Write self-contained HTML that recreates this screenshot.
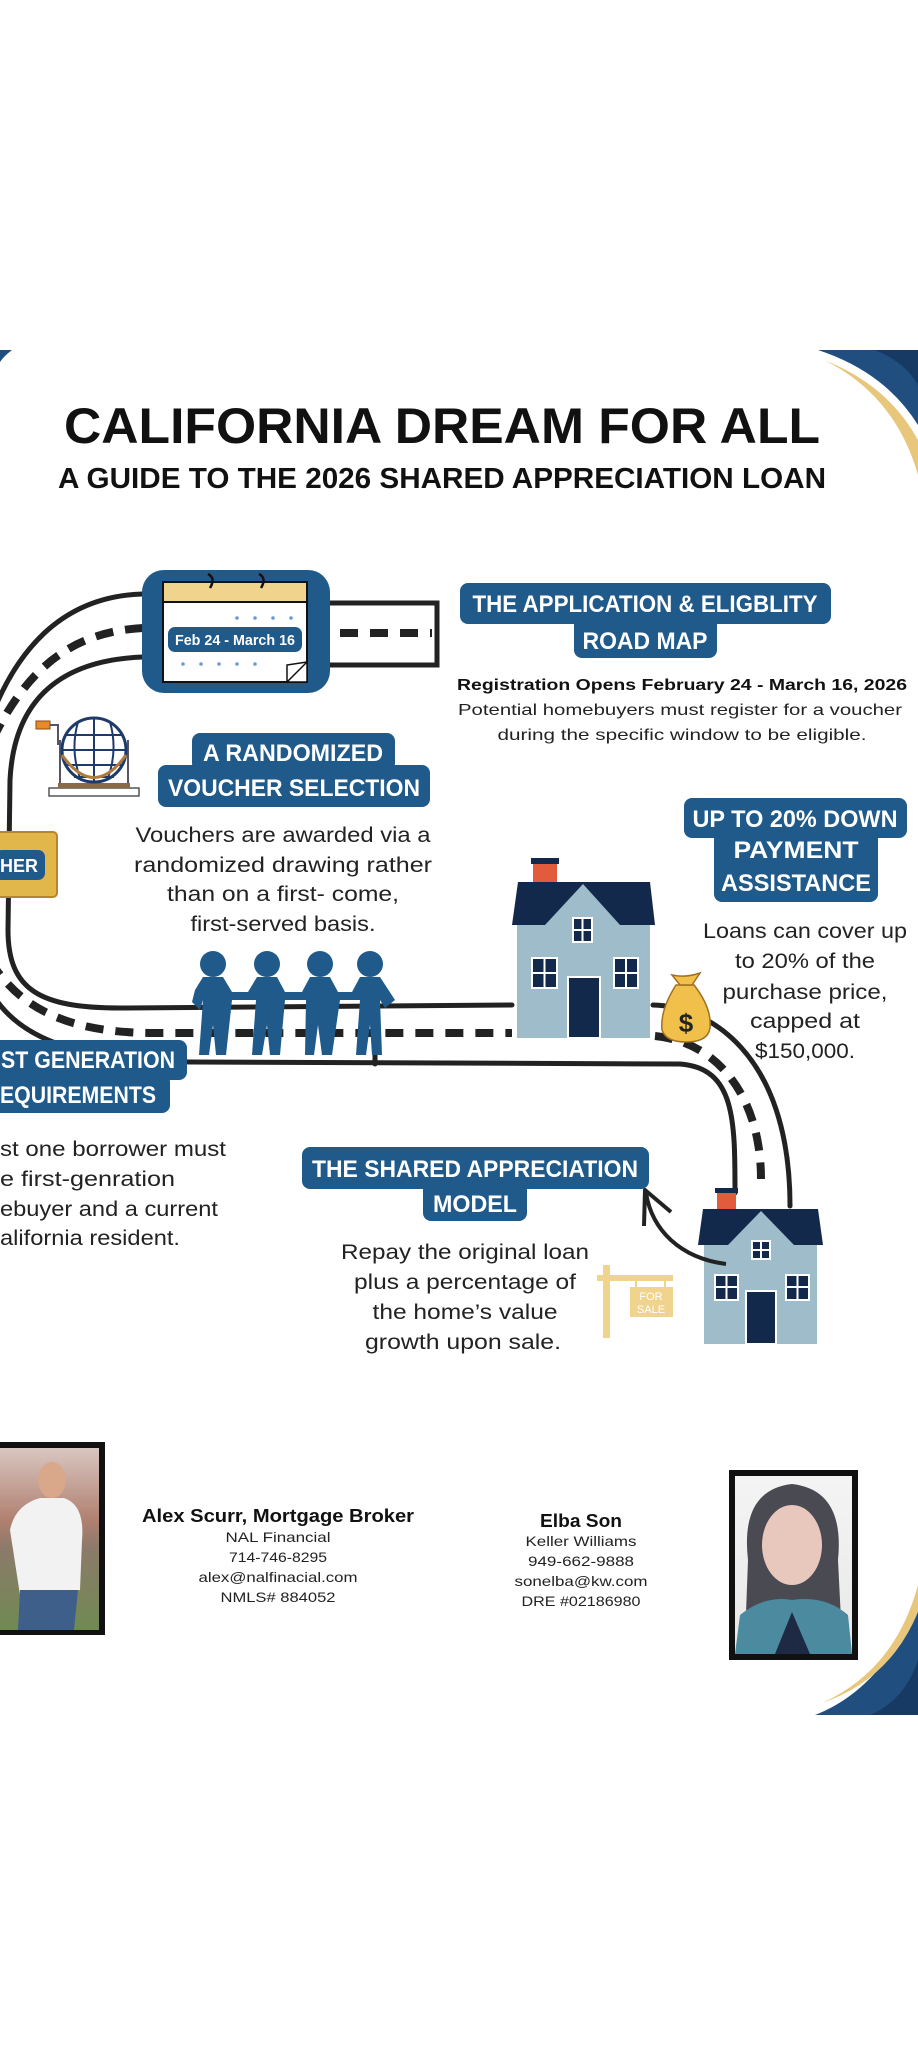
<!DOCTYPE html>
<html><head><meta charset="utf-8"><style>
html,body{margin:0;padding:0;background:#fff;}
svg{display:block;}
text{font-family:"Liberation Sans",sans-serif;}
.b{fill:#fff;font-weight:bold;}
.t{fill:#222;font-size:21px;}
</style></head><body>
<svg width="918" height="2048" viewBox="0 0 918 2048" xmlns="http://www.w3.org/2000/svg">
<rect width="918" height="2048" fill="#fff"/>
<!-- corners -->
<path d="M818,350 L918,350 L918,425 Q885,372 818,350Z" fill="#1f4e7f"/>
<path d="M875,350 L918,350 L918,385 Q905,362 875,350Z" fill="#163a63"/>
<path d="M824,360 Q895,395 918,475 L918,440 Q888,385 824,360Z" fill="#e8c77d"/>
<path d="M0,350 L12,350 Q4,356 0,362Z" fill="#1f4e7f"/>
<path d="M815,1715 L918,1715 L918,1605 Q880,1690 815,1715Z" fill="#1f4e7f"/>
<path d="M870,1715 L918,1715 L918,1660 Q905,1700 870,1715Z" fill="#163a63"/>
<path d="M822,1703 Q895,1670 918,1585 L918,1612 Q890,1680 822,1703Z" fill="#e8c77d"/>

<!-- title -->
<text x="442" y="443" font-size="50" font-weight="bold" fill="#111" text-anchor="middle" textLength="756" lengthAdjust="spacingAndGlyphs">CALIFORNIA DREAM FOR ALL</text>
<text x="442" y="488" font-size="29" font-weight="bold" fill="#111" text-anchor="middle" textLength="768" lengthAdjust="spacingAndGlyphs">A GUIDE TO THE 2026 SHARED APPRECIATION LOAN</text>

<!-- roads -->
<g fill="none" stroke="#222" stroke-width="5" stroke-linecap="round">
<path d="M329,603 L437,603 L437,665 L329,665"/>
<path d="M143,594 C70,596 20,640 -10,720"/>
<path d="M143,657 C60,660 14,700 10,780 L8,930 C8,990 40,1008 120,1008 L512,1005"/>
<path d="M-10,990 C20,1045 90,1060 190,1062 L680,1064 C735,1068 735,1120 735,1193"/>
<path d="M653,1005 C705,1006 790,1050 790,1206"/>
<path d="M375,1040 L375,1064"/>
</g>
<g fill="none" stroke="#222" stroke-width="8" stroke-dasharray="18,12">
<path d="M340,633 L432,633"/>
<path d="M143,628 C70,632 25,670 -10,745"/>
<path d="M-10,960 C20,1010 70,1032 150,1033 L512,1033"/>
<path d="M655,1036 C720,1042 761,1100 761,1179"/>
</g>

<!-- calendar -->
<rect x="142" y="570" width="188" height="123" rx="22" fill="#1f5a8a"/>
<rect x="163" y="582" width="144" height="100" fill="#fff" stroke="#111" stroke-width="2"/>
<rect x="163" y="582" width="144" height="20" fill="#f0d48e" stroke="#111" stroke-width="2"/>
<path d="M208,574 q8,4 2,14 M259,574 q8,4 2,14" stroke="#111" stroke-width="2.5" fill="none"/>
<g fill="#6b9bd1"><circle cx="237" cy="618" r="1.8"/><circle cx="255" cy="618" r="1.8"/><circle cx="273" cy="618" r="1.8"/><circle cx="291" cy="618" r="1.8"/>
<circle cx="183" cy="664" r="1.8"/><circle cx="201" cy="664" r="1.8"/><circle cx="219" cy="664" r="1.8"/><circle cx="237" cy="664" r="1.8"/><circle cx="255" cy="664" r="1.8"/></g>
<rect x="168" y="627" width="134" height="25" rx="7" fill="#1f5a8a"/>
<text x="235" y="645" font-size="15" class="b" text-anchor="middle" textLength="120" lengthAdjust="spacingAndGlyphs">Feb 24 - March 16</text>
<path d="M287,682 L307,662 L307,682Z M287,682 L287,665 L307,662" fill="#fff" stroke="#111" stroke-width="1.5"/>

<!-- badges -->
<g fill="#1f5a8a">
<rect x="460" y="583" width="371" height="41" rx="8"/><rect x="574" y="615" width="143" height="43" rx="8"/>
<rect x="192" y="733" width="203" height="38" rx="8"/><rect x="158" y="765" width="272" height="42" rx="8"/>
<rect x="684" y="798" width="223" height="40" rx="8"/><rect x="714" y="830" width="164" height="72" rx="8"/>
<rect x="-10" y="1040" width="197" height="40" rx="8"/><rect x="-10" y="1074" width="180" height="39" rx="8"/>
<rect x="302" y="1147" width="347" height="42" rx="8"/><rect x="423" y="1182" width="104" height="39" rx="8"/>
</g>
<g class="b" font-size="24" text-anchor="middle">
<text x="645" y="612" textLength="345" lengthAdjust="spacingAndGlyphs">THE APPLICATION &amp; ELIGBLITY</text>
<text x="645" y="649" textLength="125" lengthAdjust="spacingAndGlyphs">ROAD MAP</text>
<text x="293" y="761" textLength="180" lengthAdjust="spacingAndGlyphs">A RANDOMIZED</text>
<text x="294" y="796" textLength="252" lengthAdjust="spacingAndGlyphs">VOUCHER SELECTION</text>
<text x="795" y="827" textLength="205" lengthAdjust="spacingAndGlyphs">UP TO 20% DOWN</text>
<text x="796" y="858" textLength="125" lengthAdjust="spacingAndGlyphs">PAYMENT</text>
<text x="796" y="891" textLength="150" lengthAdjust="spacingAndGlyphs">ASSISTANCE</text>
<text x="88" y="1068" textLength="174" lengthAdjust="spacingAndGlyphs">ST GENERATION</text>
<text x="78" y="1103" textLength="156" lengthAdjust="spacingAndGlyphs">EQUIREMENTS</text>
<text x="475" y="1177" textLength="326" lengthAdjust="spacingAndGlyphs">THE SHARED APPRECIATION</text>
<text x="475" y="1212" textLength="84" lengthAdjust="spacingAndGlyphs">MODEL</text>
</g>

<!-- application text -->
<text x="682" y="690" font-size="16" font-weight="bold" fill="#111" text-anchor="middle" textLength="450" lengthAdjust="spacingAndGlyphs">Registration Opens February 24 - March 16, 2026</text>
<text x="680" y="715" font-size="16" fill="#222" text-anchor="middle" textLength="444" lengthAdjust="spacingAndGlyphs">Potential homebuyers must register for a voucher</text>
<text x="682" y="740" font-size="16" fill="#222" text-anchor="middle" textLength="369" lengthAdjust="spacingAndGlyphs">during the specific window to be eligible.</text>

<g class="t" text-anchor="middle">
<text x="283" y="842" textLength="295" lengthAdjust="spacingAndGlyphs">Vouchers are awarded via a</text>
<text x="283" y="872" textLength="298" lengthAdjust="spacingAndGlyphs">randomized drawing rather</text>
<text x="283" y="901" textLength="232" lengthAdjust="spacingAndGlyphs">than on a first- come,</text>
<text x="283" y="931" textLength="185" lengthAdjust="spacingAndGlyphs">first-served basis.</text>
<text x="805" y="938" textLength="204" lengthAdjust="spacingAndGlyphs">Loans can cover up</text>
<text x="805" y="968" textLength="140" lengthAdjust="spacingAndGlyphs">to 20% of the</text>
<text x="805" y="999" textLength="165" lengthAdjust="spacingAndGlyphs">purchase price,</text>
<text x="805" y="1028" textLength="110" lengthAdjust="spacingAndGlyphs">capped at</text>
<text x="805" y="1058" textLength="100" lengthAdjust="spacingAndGlyphs">$150,000.</text>
<text x="465" y="1259" textLength="248" lengthAdjust="spacingAndGlyphs">Repay the original loan</text>
<text x="465" y="1289" textLength="222" lengthAdjust="spacingAndGlyphs">plus a percentage of</text>
<text x="465" y="1319" textLength="185" lengthAdjust="spacingAndGlyphs">the home’s value</text>
<text x="463" y="1349" textLength="196" lengthAdjust="spacingAndGlyphs">growth upon sale.</text>
</g>
<g class="t">
<text x="0" y="1156" textLength="226" lengthAdjust="spacingAndGlyphs">st one borrower must</text>
<text x="0" y="1186" textLength="175" lengthAdjust="spacingAndGlyphs">e first-genration</text>
<text x="0" y="1216" textLength="218" lengthAdjust="spacingAndGlyphs">ebuyer and a current</text>
<text x="0" y="1245" textLength="180" lengthAdjust="spacingAndGlyphs">alifornia resident.</text>
</g>

<!-- globe -->
<rect x="49" y="788" width="90" height="8" fill="#fff" stroke="#555" stroke-width="1.5"/>
<rect x="58" y="783" width="72" height="5" fill="#8a6a44"/>
<path d="M60,783 L60,740 M128,783 L128,740" stroke="#556" stroke-width="2"/>
<circle cx="94" cy="750" r="32" fill="#fff" stroke="#1e3a6b" stroke-width="3"/>
<path d="M62,750 H126 M66,735 H122 M66,765 H122 M74,777 H114 M94,718 V782 M78,722 Q70,750 80,778 M110,722 Q118,750 108,778" stroke="#1e3a6b" stroke-width="2" fill="none"/>
<path d="M62,755 Q94,800 126,755" stroke="#b07a3c" stroke-width="3" fill="none"/>
<rect x="36" y="721" width="14" height="8" fill="#e88a2a" stroke="#8a4a10"/>
<path d="M50,725 H58 V745" stroke="#556" stroke-width="2" fill="none"/>

<!-- ticket -->
<rect x="-5" y="832" width="62" height="65" rx="4" fill="#e1b64a" stroke="#b8862a" stroke-width="2"/>
<rect x="-5" y="850" width="50" height="30" rx="7" fill="#1f5a8a"/>
<text x="0" y="872" font-size="18" class="b" textLength="38" lengthAdjust="spacingAndGlyphs">HER</text>

<!-- people -->
<g fill="#1f5a8a">
<circle cx="213" cy="964" r="13"/><circle cx="267" cy="964" r="13"/><circle cx="320" cy="964" r="13"/><circle cx="370" cy="964" r="13"/>
<path d="M195,990 L203,977 L223,977 L232,992 L248,992 L257,977 L277,977 L285,992 L302,992 L310,977 L330,977 L338,992 L352,992 L360,977 L380,977 L395,1000 L385,1008 L380,1000 L382,1055 L372,1055 L370,1025 L366,1055 L356,1055 L360,1000 L340,1000 L332,1055 L322,1055 L318,1025 L314,1055 L305,1055 L306,1000 L285,1000 L280,1055 L270,1055 L267,1025 L262,1055 L252,1055 L256,1000 L232,1000 L226,1055 L216,1055 L213,1025 L209,1055 L199,1055 L203,1000 L200,1010 L192,1002Z"/>
</g>

<!-- house1 -->
<rect x="533" y="860" width="24" height="22" fill="#e15b3c"/><rect x="531" y="858" width="28" height="6" fill="#13294b"/>
<rect x="517" y="925" width="133" height="113" fill="#9fbccb"/>
<path d="M518,882 L650,882 L655,925 L512,925Z" fill="#13294b"/>
<path d="M583,884 L545,925 L620,925Z" fill="#9fbccb"/>
<rect x="573" y="918" width="19" height="24" fill="#13294b" stroke="#fff" stroke-width="2"/>
<path d="M582.5,918 V942 M573,930 H592" stroke="#fff" stroke-width="2"/>
<rect x="532" y="958" width="25" height="30" fill="#13294b" stroke="#fff" stroke-width="2"/><path d="M544.5,958 V988 M532,973 H557" stroke="#fff" stroke-width="2"/>
<rect x="614" y="958" width="24" height="30" fill="#13294b" stroke="#fff" stroke-width="2"/><path d="M626,958 V988 M614,973 H638" stroke="#fff" stroke-width="2"/>
<rect x="568" y="977" width="32" height="61" fill="#13294b" stroke="#fff" stroke-width="2"/>

<!-- money bag -->
<path d="M676,985 Q660,1010 662,1030 Q666,1042 686,1042 Q708,1042 710,1028 Q712,1008 694,985Z" fill="#f0c04a" stroke="#a07020" stroke-width="1.5"/>
<path d="M672,975 L680,985 L692,985 L700,973 Q686,978 672,975Z" fill="#f0c04a" stroke="#a07020" stroke-width="1.5"/>
<text x="686" y="1032" font-size="26" font-weight="bold" fill="#222" text-anchor="middle">$</text>

<!-- house2 -->
<rect x="717" y="1190" width="19" height="19" fill="#e15b3c"/><rect x="715" y="1188" width="23" height="5" fill="#13294b"/>
<rect x="704" y="1245" width="113" height="99" fill="#9fbccb"/>
<path d="M703,1209 L818,1209 L823,1245 L698,1245Z" fill="#13294b"/>
<path d="M761,1211 L728,1245 L794,1245Z" fill="#9fbccb"/>
<rect x="752" y="1241" width="18" height="18" fill="#13294b" stroke="#fff" stroke-width="2"/><path d="M761,1241 V1259 M752,1250 H770" stroke="#fff" stroke-width="2"/>
<rect x="715" y="1275" width="23" height="25" fill="#13294b" stroke="#fff" stroke-width="2"/><path d="M726.5,1275 V1300 M715,1287 H738" stroke="#fff" stroke-width="2"/>
<rect x="786" y="1275" width="23" height="25" fill="#13294b" stroke="#fff" stroke-width="2"/><path d="M797.5,1275 V1300 M786,1287 H809" stroke="#fff" stroke-width="2"/>
<rect x="746" y="1291" width="30" height="53" fill="#13294b" stroke="#fff" stroke-width="2"/>

<!-- arrow -->
<path d="M726,1264 C680,1258 652,1230 646,1193" fill="none" stroke="#222" stroke-width="4"/>
<path d="M644,1226 L645,1190 L671,1212" fill="none" stroke="#222" stroke-width="4" stroke-linejoin="round"/>

<!-- for sale -->
<rect x="603" y="1265" width="7" height="73" fill="#f0d48e"/>
<rect x="597" y="1275" width="76" height="6" fill="#f0d48e"/>
<path d="M636,1281 V1287 M665,1281 V1287" stroke="#f0d48e" stroke-width="2"/>
<rect x="630" y="1287" width="43" height="30" fill="#f0d48e"/>
<text x="651" y="1300" font-size="11" fill="#fff" text-anchor="middle">FOR</text>
<text x="651" y="1313" font-size="11" fill="#fff" text-anchor="middle">SALE</text>

<!-- photos -->
<rect x="-4" y="1442" width="109" height="193" fill="#111"/>
<defs>
<linearGradient id="g1" x1="0" y1="0" x2="0" y2="1"><stop offset="0" stop-color="#d9c6c0"/><stop offset="0.4" stop-color="#b08070"/><stop offset="0.55" stop-color="#8c7a6a"/><stop offset="1" stop-color="#6f8a52"/></linearGradient>
<linearGradient id="g2" x1="0" y1="0" x2="0" y2="1"><stop offset="0" stop-color="#f4f4f4"/><stop offset="1" stop-color="#e8e8e8"/></linearGradient>
</defs>
<rect x="0" y="1448" width="99" height="182" fill="url(#g1)"/>
<ellipse cx="52" cy="1480" rx="14" ry="18" fill="#d9a88a"/>
<path d="M10,1530 Q15,1505 40,1498 L64,1498 Q85,1505 82,1540 L80,1590 L20,1595Z" fill="#f2f2f2"/>
<path d="M20,1590 L78,1590 L74,1630 L18,1630Z" fill="#3e5f8a"/>
<rect x="729" y="1470" width="129" height="190" fill="#111"/>
<rect x="735" y="1476" width="117" height="178" fill="url(#g2)"/>
<path d="M748,1560 Q740,1490 792,1484 Q845,1490 838,1560 L842,1640 L745,1640Z" fill="#4a4a52"/>
<ellipse cx="792" cy="1545" rx="30" ry="40" fill="#e8c8bc"/>
<path d="M735,1654 L740,1615 Q765,1595 792,1600 Q825,1595 848,1615 L852,1654Z" fill="#4c8aa0"/>
<path d="M775,1654 L792,1612 L810,1654Z" fill="#1e2a44"/>

<!-- contacts -->
<text x="278" y="1522" font-size="18" font-weight="bold" fill="#111" text-anchor="middle" textLength="272" lengthAdjust="spacingAndGlyphs">Alex Scurr, Mortgage Broker</text>
<g font-size="14" fill="#222" text-anchor="middle">
<text x="278" y="1542" textLength="105" lengthAdjust="spacingAndGlyphs">NAL Financial</text>
<text x="278" y="1562" textLength="98" lengthAdjust="spacingAndGlyphs">714-746-8295</text>
<text x="278" y="1582" textLength="159" lengthAdjust="spacingAndGlyphs">alex@nalfinacial.com</text>
<text x="278" y="1602" textLength="115" lengthAdjust="spacingAndGlyphs">NMLS# 884052</text>
<text x="581" y="1546" textLength="111" lengthAdjust="spacingAndGlyphs">Keller Williams</text>
<text x="581" y="1566" textLength="106" lengthAdjust="spacingAndGlyphs">949-662-9888</text>
<text x="581" y="1586" textLength="133" lengthAdjust="spacingAndGlyphs">sonelba@kw.com</text>
<text x="581" y="1606" textLength="119" lengthAdjust="spacingAndGlyphs">DRE #02186980</text>
</g>
<text x="581" y="1527" font-size="18" font-weight="bold" fill="#111" text-anchor="middle" textLength="82" lengthAdjust="spacingAndGlyphs">Elba Son</text>
</svg>
</body></html>
